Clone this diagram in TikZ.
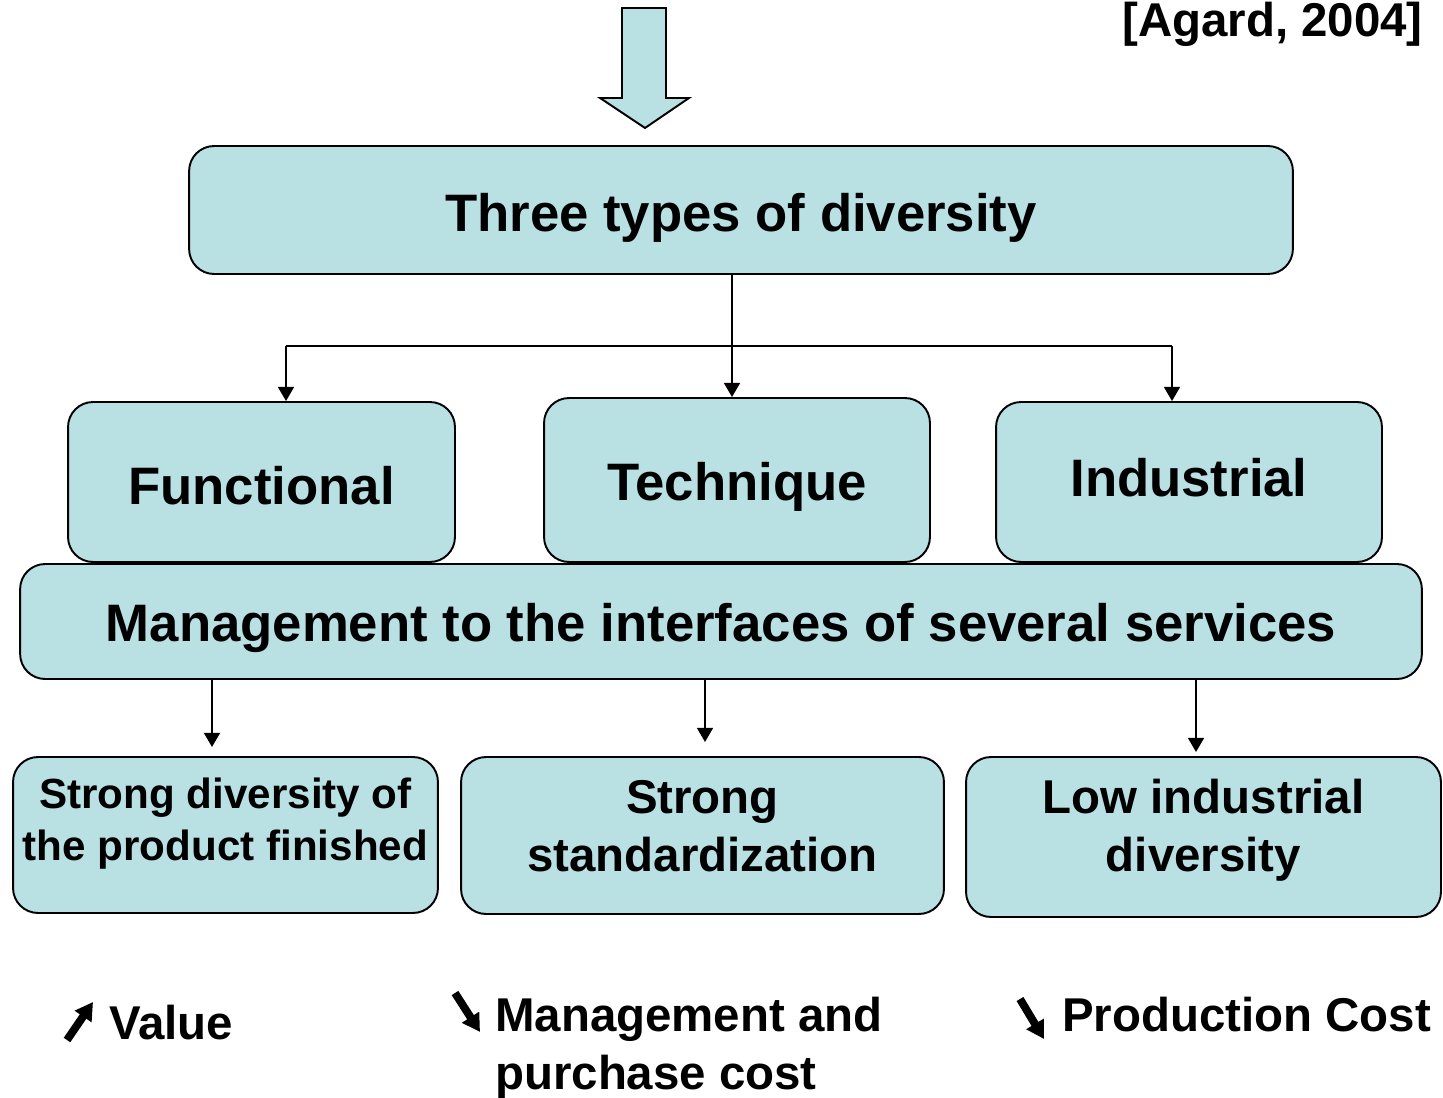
\documentclass[tikz,border=0pt]{standalone}
\usepackage{fontspec}
\setmainfont{Liberation Sans}
\usepackage{tikz}
\usetikzlibrary{positioning,arrows.meta,shapes}

\definecolor{boxblue}{RGB}{185,224,227}
\tikzset{
  divbox/.style={draw=black, line width=1.1pt, fill=boxblue, rounded corners=0.5cm,
    align=center, font=\bfseries\fontsize{30}{36}\selectfont},
  tpos/.style 2 args={text height=#1, text depth=#2},
  link/.style={line width=1.1pt, -{Triangle[width=9pt,length=8pt]}},
  trend/.style={line width=4.5pt, -{Triangle[width=11pt,length=10pt]}},
  note/.style={font=\bfseries\fontsize{27}{33}\selectfont}
}

\begin{document}
\begin{tikzpicture}[x=0.02cm,y=-0.02cm]
            \useasboundingbox (0,0) rectangle (1443,1098);
            % input arrow
            \draw[fill=boxblue, line width=1.1pt] (622,8) -- (666,8) -- (666,98) -- (689,98)
                -- (645,128) -- (600,98) -- (622,98) -- cycle;
            \node[note, anchor=base east] (ref) at (1429,37) {[Agard, 2004]};

            \node[divbox, tpos={24.6pt}{0pt}, minimum width=22.08cm, minimum height=2.56cm] (three) at (741,210) {Three types of diversity};
            \node[divbox, tpos={25.5pt}{0pt}, minimum width=7.74cm, minimum height=3.2cm] (func) at (261.5,482) {Functional};
            \node[divbox, tpos={23.6pt}{0pt}, minimum width=7.72cm, minimum height=3.28cm] (tech) at (737,480) {Technique};
            \node[divbox, tpos={16.3pt}{0pt}, minimum width=7.72cm, minimum height=3.2cm] (ind) at (1189,482) {Industrial};
            \node[divbox, tpos={22.4pt}{0pt}, minimum width=28.04cm, minimum height=2.3cm] (mgmt) at (721,621.5) {Management to the interfaces of several services};

            \node[divbox, tpos={29.3pt}{0pt}, font=\bfseries\fontsize{24}{30}\selectfont, minimum width=8.5cm, minimum height=3.12cm] (prod) at (225.5,835) {Strong diversity of\\the product finished};
            \node[divbox, tpos={41.3pt}{0pt}, font=\bfseries\fontsize{27}{33}\selectfont, minimum width=9.66cm, minimum height=3.14cm] (std) at (702.5,835.5) {Strong\\standardization};
            \node[divbox, tpos={39.1pt}{0pt}, font=\bfseries\fontsize{27}{33}\selectfont, minimum width=9.5cm, minimum height=3.2cm] (low) at (1203.5,837) {Low industrial\\diversity};

            % branches
            \coordinate (busL) at (286,346);
            \coordinate (busM) at (732,346);
            \coordinate (busR) at (1172,346);
            \draw[link] (busM |- three.south) -- (busM |- tech.north);
            \draw[line width=1.1pt] (busL) -- (busR);
            \draw[link] (busL) -- (busL |- func.north);
            \draw[link] (busR) -- (busR |- ind.north);

            \coordinate (endA) at (212,747);
            \coordinate (endB) at (705,742);
            \coordinate (endC) at (1196,752);
            \draw[link] (endA |- mgmt.south) -- (endA);
            \draw[link] (endB |- mgmt.south) -- (endB);
            \draw[link] (endC |- mgmt.south) -- (endC);

            % effects
            \node[note, anchor=west] (value) at (103,1023) {Value};
            \node[note, anchor=west, align=left] (cost) at (489,1048) {Management and\\purchase cost};
            \node[note, anchor=west] (pcost) at (1056,1015) {Production Cost};
            \coordinate (upA) at (67,1040);
            \coordinate (upB) at (93,1002);
            \coordinate (dnA) at (455,993);
            \coordinate (dnB) at (480,1032);
            \coordinate (dnC) at (1020,999);
            \coordinate (dnD) at (1044,1039);
            \draw[trend] (upA) -- (upB);
            \draw[trend] (dnA) -- (dnB);
            \draw[trend] (dnC) -- (dnD);
        \end{tikzpicture}
\end{document}
